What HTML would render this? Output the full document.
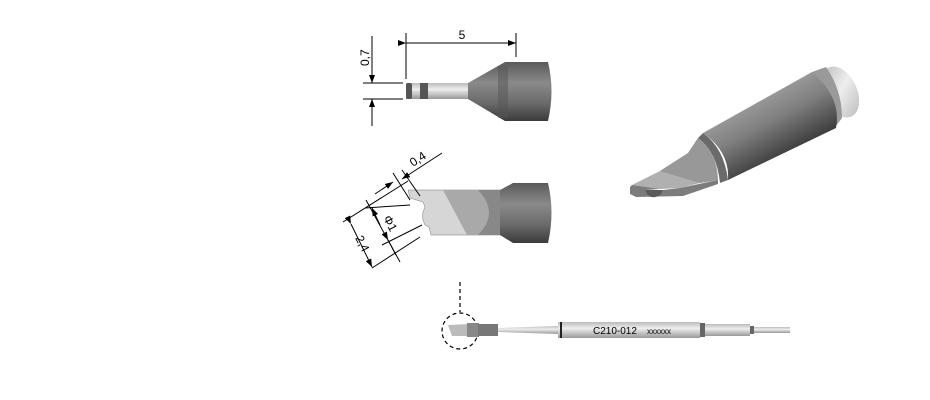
<!DOCTYPE html>
<html><head><style>body{margin:0;background:#fff}svg{display:block}</style></head><body>
<svg width="930" height="400" viewBox="0 0 930 400" xmlns="http://www.w3.org/2000/svg" font-family="Liberation Sans, sans-serif">
<defs>
<linearGradient id="cyl" x1="0" y1="0" x2="0" y2="1">
<stop offset="0" stop-color="#5a5a5a"/><stop offset="0.35" stop-color="#8a8a8a"/><stop offset="0.7" stop-color="#6a6a6a"/><stop offset="1" stop-color="#3a3a3a"/></linearGradient>
<linearGradient id="rod" x1="0" y1="0" x2="0" y2="1">
<stop offset="0" stop-color="#bbb"/><stop offset="0.4" stop-color="#eee"/><stop offset="1" stop-color="#999"/></linearGradient>
<linearGradient id="iso" gradientUnits="userSpaceOnUse" x1="755" y1="100" x2="785" y2="155">
<stop offset="0" stop-color="#9a9a9a"/><stop offset="0.4" stop-color="#808080"/><stop offset="1" stop-color="#3e3e3e"/></linearGradient>
<linearGradient id="cap" gradientUnits="userSpaceOnUse" x1="825" y1="65" x2="860" y2="115">
<stop offset="0" stop-color="#bbb"/><stop offset="0.5" stop-color="#eee"/><stop offset="1" stop-color="#bbb"/></linearGradient>
<marker id="ar" markerWidth="8" markerHeight="6" refX="8" refY="3" orient="auto" markerUnits="userSpaceOnUse"><path d="M0,0L8,3L0,6z" fill="#000"/></marker>
</defs>
<g stroke="#000" stroke-width="1" fill="none">
<line x1="406" y1="33" x2="406" y2="79"/><line x1="516" y1="33" x2="516" y2="57"/>
<line x1="406" y1="43" x2="516" y2="43" marker-start="url(#ar)" marker-end="url(#ar)"/>
<line x1="363" y1="83" x2="403" y2="83"/><line x1="363" y1="99" x2="403" y2="99"/>
<line x1="372" y1="36" x2="372" y2="83" marker-end="url(#ar)"/>
<line x1="372" y1="126" x2="372" y2="99" marker-end="url(#ar)"/>
</g>
<text x="462" y="39" font-size="12" text-anchor="middle">5</text>
<text transform="translate(369,66) rotate(-90)" font-size="12">0,7</text>
<rect x="406" y="83" width="62" height="16" fill="url(#rod)"/>
<rect x="406" y="83" width="6" height="16" fill="#555" rx="2"/>
<rect x="420" y="83" width="8" height="16" fill="#555"/>
<path d="M468,83 L505,62 L505,121 L468,99Z" fill="url(#cyl)"/>
<path d="M505,62 L548,62 Q555,91 548,121 L505,121Z" fill="url(#cyl)"/>
<rect x="498" y="66" width="10" height="52" fill="#555" opacity=".5"/>
<path d="M408,190 L506,190 L506,235 L431,235 L429,227 L425,225 Q420,216 425,207 L423,202 L410,198Z" fill="#d6d6d6" stroke="#777" stroke-width=".5"/>
<path d="M443,190 L506,190 L506,235 L467,235Z" fill="#a9a9a9"/>
<path d="M478,190 L506,190 L506,235 L478,235 Q500,213 478,190Z" fill="#888"/>
<path d="M500,190 L513,183 L513,243 L500,235Z" fill="url(#cyl)"/>
<path d="M513,183 L548,183 Q555,213 548,243 L513,243Z" fill="url(#cyl)"/>
<g stroke="#000" stroke-width="1" fill="none">
<line x1="393" y1="173" x2="410" y2="200"/><line x1="402" y1="170" x2="420" y2="196"/>
<line x1="375" y1="194" x2="393" y2="182" marker-end="url(#ar)"/>
<line x1="442" y1="153" x2="402" y2="179" marker-end="url(#ar)"/>
<line x1="343" y1="222" x2="408" y2="181"/><line x1="372" y1="268" x2="420" y2="237"/>
<line x1="351" y1="224" x2="372" y2="267" marker-start="url(#ar)" marker-end="url(#ar)"/>
<line x1="365" y1="208" x2="410" y2="205"/><line x1="382" y1="245" x2="422" y2="225"/>
<line x1="366" y1="200" x2="400" y2="262"/>
<line x1="380" y1="225" x2="372" y2="208" marker-end="url(#ar)"/>
<line x1="388" y1="240" x2="396" y2="255" marker-start="url(#ar)"/>
</g>
<text transform="translate(413,167) rotate(-33)" font-size="12">0,4</text>
<text transform="translate(355,238) rotate(63)" font-size="12">2,4</text>
<text transform="translate(383,218) rotate(63)" font-size="12">Φ1</text>
<!-- iso view -->
<ellipse cx="840" cy="92" rx="17" ry="27" transform="rotate(-25 840 92)" fill="url(#cap)"/>
<path d="M812,72 L826,67 Q842,90 842,118 L836,126Z" fill="#9a9a9a"/>
<path d="M703,133 L812,72 Q842,98 836,128 L728,180 Q730,152 703,133Z" fill="url(#iso)"/>
<path d="M703,133 Q724,148 728,180 L720,183 Q717,152 698,138Z" fill="#6a6a6a"/>
<path d="M632,185 L660,171 L688,153 L698,138 Q717,152 718,180 L700,183 L680,188 L660,189Z" fill="#b0b0b0"/>
<path d="M660,171 L688,153 L698,138 Q717,152 718,180 L700,183Z" fill="#989898"/>
<path d="M630,187 L632,185 L660,189 L645,190 Q647,198 655,197 Q662,196 663,190 L680,188 L718,180 L718,184 L683,196 L636,197 L630,194Z" fill="#7c7c7c"/>
<path d="M645,190 Q647,198 655,197 Q662,196 663,190Z" fill="#5a5a5a"/>
<!-- bottom tool -->
<g stroke="#000" stroke-width="1.2" fill="none" stroke-dasharray="4,3">
<line x1="460" y1="282" x2="460" y2="312"/><circle cx="460" cy="331" r="18"/>
</g>
<path d="M448,325 L470,324 L470,336 L452,336Z" fill="#bbb"/>
<rect x="467" y="323" width="12" height="14" fill="#888"/>
<rect x="478" y="324" width="20" height="12" fill="#777"/>
<path d="M498,328 L558,326 L558,334 L498,332Z" fill="url(#rod)"/>
<rect x="558" y="322" width="142" height="16" fill="url(#rod)"/>
<rect x="560" y="322" width="2" height="16" fill="#222"/>
<rect x="700" y="323" width="5" height="14" fill="#666"/>
<rect x="705" y="324" width="45" height="12" fill="url(#rod)"/>
<rect x="750" y="326" width="4" height="8" fill="#666"/>
<rect x="754" y="327" width="36" height="6" fill="url(#rod)"/>
<text x="593" y="334" font-size="10">C210-012</text>
<text x="647" y="334" font-size="8">xxxxxx</text>
</svg>
</body></html>
